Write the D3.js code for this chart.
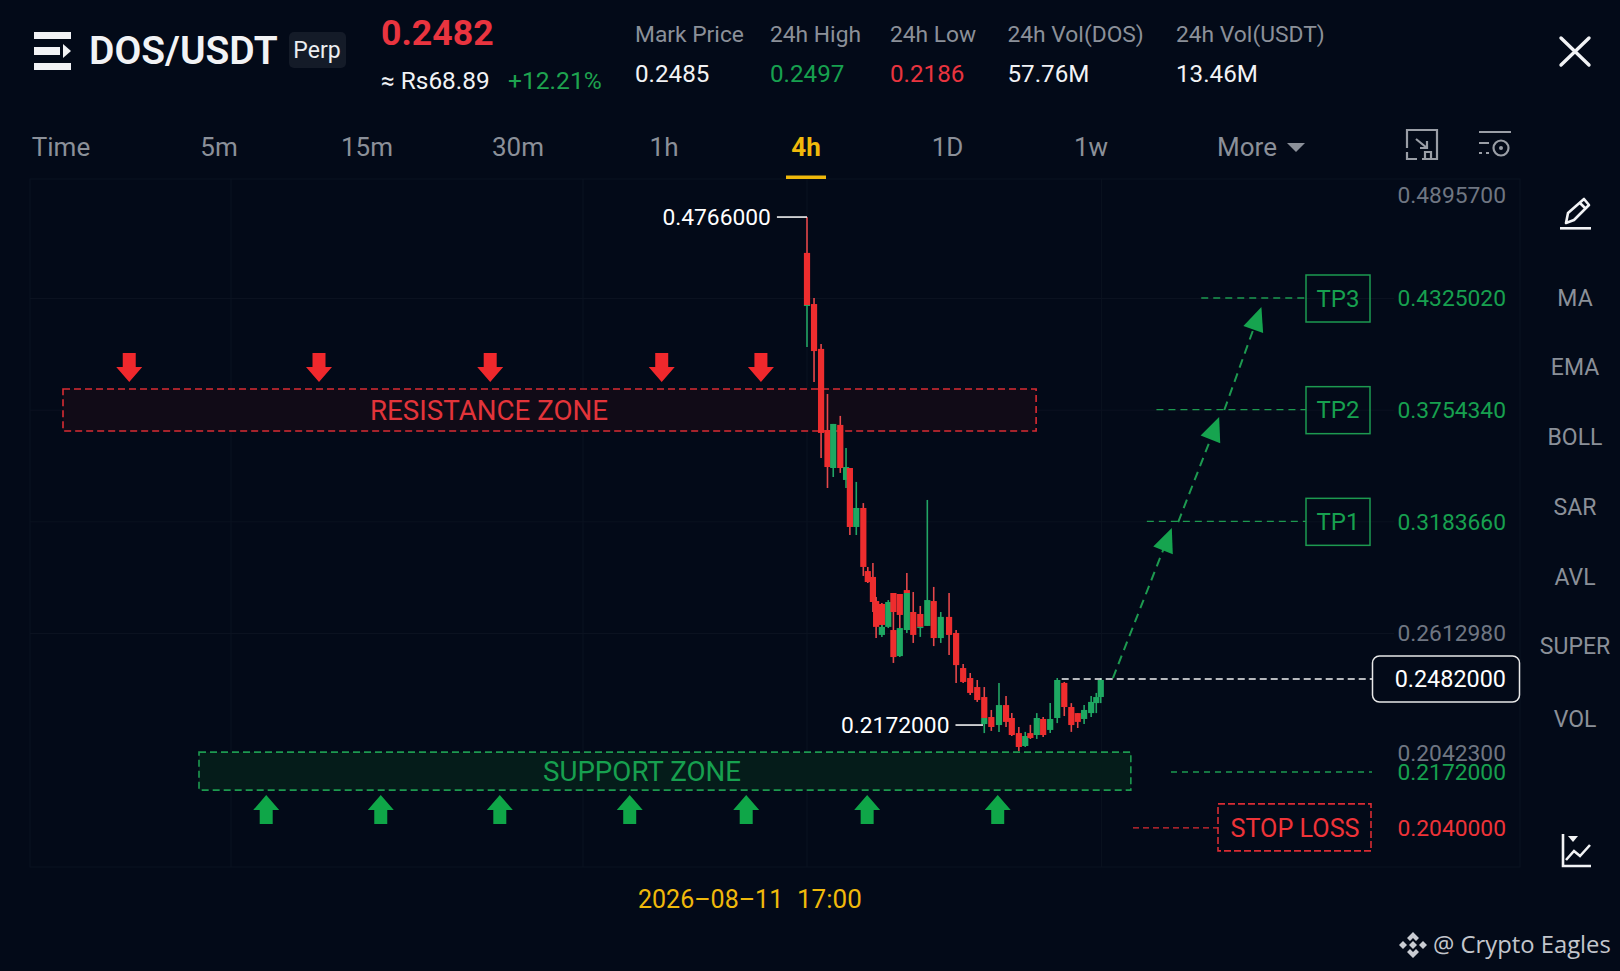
<!DOCTYPE html>
<html>
<head>
<meta charset="utf-8">
<title>DOS/USDT</title>
<script src="https://cdn.jsdelivr.net/npm/d3@7/dist/d3.min.js"></script>
<style>
  html, body { margin: 0; padding: 0; background: #030a18; overflow: hidden; }
  text { font-family: Roboto, sans-serif; }
</style>
</head>
<body>
<div id="chart"></div>
<script>
// candles
const slots  = [0,0,1.1,2.2,3.2,4.1,5.2,6.1,6.7,7.7,8.8,9.5,10.3,10.8,11.7,11.7,12.7,13.5,13.5,14.5,14.5,15.6,15.6,16.6,17.7,17.7,18.8,19.8,20.9,22.2,23.3,24.4,25.5,26.6,27.7,27.7,28.8,30,31.1,32,33.1,34.1,34.9,35.9,36.9,38,39.1,40.2,41.3,42.3,43.3,44.4,45.2,45.9];
const opens  = [.4595,.4325,.4334,.4105,.3691,.3497,.3717,.3436,.3497,.3196,.3293,.2971,.2941,.2818,.2803,.2645,.2686,.2859,.2670,.2854,.2537,.2874,.2670,.2762,.2752,.2680,.2691,.2818,.2629,.2737,.2655,.2476,.2425,.2379,.2328,.2190,.2226,.2185,.2287,.2221,.2144,.2078,.2144,.2134,.2216,.2160,.2221,.2400,.2277,.2246,.2216,.2246,.2297,.2328];
const highs  = [.4778,.4329,.4365,.4130,.3875,.3722,.3763,.3599,.3497,.3426,.3318,.2992,.3012,.2839,.2808,.2696,.2823,.2859,.2670,.2854,.2680,.2961,.2859,.2864,.2793,.2686,.3334,.2890,.2762,.2859,.2670,.2496,.2451,.2415,.2379,.2221,.2262,.2400,.2333,.2246,.2175,.2150,.2186,.2246,.2226,.2297,.2425,.2405,.2297,.2246,.2287,.2333,.2349,.2425];
const lows   = [.4329,.4115,.3936,.3548,.3395,.3451,.3472,.3395,.3155,.3155,.2946,.2910,.2762,.2629,.2686,.2635,.2680,.2670,.2502,.2680,.2532,.2859,.2655,.2604,.2680,.2635,.2691,.2588,.2604,.2542,.2400,.2400,.2338,.2303,.2221,.2144,.2155,.2150,.2175,.2129,.2053,.2073,.2114,.2114,.2124,.2144,.2195,.2231,.2150,.2170,.2190,.2226,.2246,.2297];
const closes = [.4329,.4329,.4094,.3676,.3502,.3722,.3497,.3502,.3196,.3293,.2992,.2915,.2813,.2686,.2696,.2686,.2813,.2762,.2532,.2747,.2680,.2859,.2859,.2645,.2686,.2686,.2823,.2629,.2737,.2645,.2491,.2405,.2349,.2313,.2221,.2221,.2175,.2287,.2201,.2134,.2073,.2129,.2119,.2221,.2134,.2216,.2415,.2277,.2185,.2201,.2262,.2303,.2328,.2415];

// price axis
const axisTicks = [0.48957, 0.432502, 0.375434, 0.318366, 0.261298, 0.20423];
const tpTicks = [0.432502, 0.375434, 0.318366];

// zones, arrows and trade path
const resistanceZone = { slotFrom: -116.25, slotTo: 35.8, top: .3900, bottom: .3686 };
const supportZone = { slotFrom: -95, slotTo: 50.6, top: .2047, bottom: .1853 };
const resistanceArrows = [-105.9, -76.25, -49.5, -22.7, -7.2];
const supportArrows = [-84.5, -66.6, -48, -27.7, -9.5, 9.4, 29.8];
const pathSlots  = [[47.8, 57], [58, 64.4], [65.2, 71]];
const pathPrices = [[.2425, .3191], [.3221, .3757], [.3793, .4319]];

const tpNames = ['TP3', 'TP2', 'TP1'];
const tpLineFrom = [61.6, 54.6, 53.1];

const highLabel = '0.4766000', lowLabel = '0.2172000', lastLabel = '0.2482000';
const supportLabel = '0.2172000', stopLabel = '0.2040000';
const highPrice = .4778, lowPrice = .2185, lastPrice = .2420, supportAt = .1945, stopAt = .1660;

// header
const statLabels = ['Mark Price', '24h High', '24h Low', '24h Vol(DOS)', '24h Vol(USDT)'];
const statValues = ['0.2485', '0.2497', '0.2186', '57.76M', '13.46M'];
const statX = [635, 770, 890, 1007.5, 1176];
const tabs = ['Time', '5m', '15m', '30m', '1h', '4h', '1D', '1w', 'More'];
const tabX = [61, 219, 367, 518, 664, 806, 947.5, 1091, 1247];
const sideLabels = ['MA', 'EMA', 'BOLL', 'SAR', 'AVL', 'SUPER', 'VOL'];
const sideY = [298, 367, 437, 507, 577, 646, 719];
const timeParts = ['2026–08–11', '17:00'];
const timePartX = [638, 797];
const timePartSize = ['25px', '26px'];

const RED = '#e9302f', GREEN = '#17a04f', GREY = '#8b9099', LINE_RED = '#d92c33', LINE_GREEN = '#1d9a50';
const AXIS_GREY = '#6f7682', YELLOW = '#f0b90b', GRID = '#0b1220', BG = '#030a18';

const svg = d3.select('#chart').append('svg')
  .attr('width', 1620)
  .attr('height', 971)
  .style('display', 'block');

const xScale = d3.scaleLinear().domain([0, 46]).range([807, 1101.4]);
// candles sit on the outer two axis labels, the inner labels sit 8px higher in the picture
const priceY = d3.scaleLinear().domain([0.48957, 0.20423]).range([194, 753]);
const axisY = d3.scaleLinear().domain([0.432502, 0.261298]).range([298, 633]);

// plot frame and grid
svg.append('rect')
  .attr('x', 30).attr('y', 179)
  .attr('width', 1490).attr('height', 688)
  .attr('fill', 'none').attr('stroke', GRID);

svg.append('g').selectAll('line')
  .data([-90, -35, 0, 46])
  .enter().append('line')
  .attr('x1', d => xScale(d)).attr('x2', d => xScale(d))
  .attr('y1', 179).attr('y2', 867)
  .attr('stroke', GRID);

const yAxis = d3.axisRight(axisY)
  .tickValues(axisTicks)
  .tickFormat(d3.format('.7f'))
  .tickSize(0)
  .tickPadding(0);

const axisG = svg.append('g')
  .attr('transform', 'translate(1506, 0)')
  .call(yAxis);
axisG.select('.domain').remove();
axisG.selectAll('text')
  .attr('text-anchor', 'end')
  .attr('x', 0)
  .attr('dy', d => (d === axisTicks[0] || d === axisTicks[5]) ? '16px' : '0.35em')
  .style('font-family', 'Roboto, sans-serif')
  .style('font-size', '22.8px')
  .attr('fill', d => tpTicks.includes(d) ? GREEN : AXIS_GREY);
axisG.selectAll('.tick').filter(d => d !== axisTicks[0] && d !== axisTicks[5])
  .append('line')
  .attr('x1', -1476).attr('x2', -112)
  .attr('stroke', GRID);

// zones
function drawZone(zone, fill, stroke, label, labelColor, labelX) {
  const y0 = priceY(zone.top), y1 = priceY(zone.bottom);
  svg.append('rect')
    .attr('x', xScale(zone.slotFrom)).attr('y', y0)
    .attr('width', xScale(zone.slotTo) - xScale(zone.slotFrom))
    .attr('height', y1 - y0)
    .attr('fill', fill)
    .attr('stroke', stroke)
    .attr('stroke-width', 1.6)
    .attr('stroke-dasharray', '7 4');
  svg.append('text')
    .attr('x', labelX).attr('y', (y0 + y1) / 2 + 9.5)
    .attr('text-anchor', 'middle')
    .attr('fill', labelColor)
    .style('font-size', '27.7px')
    .text(label);
}
drawZone(resistanceZone, '#110b17', LINE_RED, 'RESISTANCE ZONE', '#e3343a', 489);
drawZone(supportZone, '#051c1a', LINE_GREEN, 'SUPPORT ZONE', '#17a04f', 642);

// candles
const candles = svg.append('g').selectAll('g')
  .data(slots.map((s, i) => ({ slot: s, o: opens[i], h: highs[i], l: lows[i], c: closes[i] })))
  .enter().append('g');

candles.append('line')
  .attr('x1', d => xScale(d.slot)).attr('x2', d => xScale(d.slot))
  .attr('y1', d => priceY(d.h)).attr('y2', d => priceY(d.l))
  .attr('stroke', d => d.c >= d.o ? '#22a565' : '#e5474a')
  .attr('stroke-width', 1.6);

candles.append('rect')
  .attr('x', d => xScale(d.slot) - 3.1)
  .attr('width', 6.2)
  .attr('y', d => priceY(Math.max(d.o, d.c)))
  .attr('height', d => Math.max(1, Math.abs(priceY(d.o) - priceY(d.c))))
  .attr('fill', d => d.c >= d.o ? '#1ea862' : '#ee2d2e');

// block arrows
function blockArrow(cx, yTip, dir) {
  // dir -1 points up, 1 points down; tip sits on yTip
  const s = yTip - dir * 15, e = yTip - dir * 29;
  return `M${cx},${yTip}L${cx - 13},${s}L${cx - 6.5},${s}L${cx - 6.5},${e}L${cx + 6.5},${e}L${cx + 6.5},${s}L${cx + 13},${s}Z`;
}
svg.append('g').selectAll('path')
  .data(resistanceArrows).enter().append('path')
  .attr('d', d => blockArrow(xScale(d), priceY(resistanceZone.top) - 7, 1))
  .attr('fill', '#f0282c');
svg.append('g').selectAll('path')
  .data(supportArrows).enter().append('path')
  .attr('d', d => blockArrow(xScale(d), priceY(supportZone.bottom) + 5, -1))
  .attr('fill', '#0fa648');

// trade path
pathSlots.forEach((seg, i) => {
  const x0 = xScale(seg[0]), x1 = xScale(seg[1]);
  const y0 = priceY(pathPrices[i][0]), y1 = priceY(pathPrices[i][1]);
  const len = Math.hypot(x1 - x0, y1 - y0);
  const ux = (x1 - x0) / len, uy = (y1 - y0) / len;
  svg.append('line')
    .attr('x1', x0).attr('y1', y0)
    .attr('x2', x1 - ux * 22).attr('y2', y1 - uy * 22)
    .attr('stroke', LINE_GREEN)
    .attr('stroke-width', 2)
    .attr('stroke-dasharray', '9 6');
  const bx = x1 - ux * 24, by = y1 - uy * 24;
  svg.append('path')
    .attr('d', `M${x1},${y1}L${bx - uy * 10.5},${by + ux * 10.5}L${bx + uy * 10.5},${by - ux * 10.5}Z`)
    .attr('fill', '#16a44f');
});

// take profit levels
const tpY = tpTicks.map(d => axisY(d));
tpNames.forEach((name, i) => {
  svg.append('line')
    .attr('x1', xScale(tpLineFrom[i])).attr('x2', 1306)
    .attr('y1', tpY[i]).attr('y2', tpY[i])
    .attr('stroke', LINE_GREEN).attr('stroke-width', 1.4)
    .attr('stroke-dasharray', '7 5');
  svg.append('rect')
    .attr('x', 1306).attr('y', tpY[i] - 23)
    .attr('width', 64).attr('height', 47)
    .attr('fill', 'none')
    .attr('stroke', LINE_GREEN).attr('stroke-width', 1.5);
  svg.append('text')
    .attr('x', 1338).attr('y', tpY[i] + 8.5)
    .attr('text-anchor', 'middle')
    .attr('fill', GREEN)
    .style('font-size', '24px')
    .text(name);
});

// support level
svg.append('line')
  .attr('x1', 1171).attr('x2', 1372)
  .attr('y1', priceY(supportAt)).attr('y2', priceY(supportAt))
  .attr('stroke', LINE_GREEN).attr('stroke-width', 1.4)
  .attr('stroke-dasharray', '6 5');
svg.append('text')
  .attr('x', 1506).attr('y', priceY(supportAt))
  .attr('dy', '0.35em')
  .attr('text-anchor', 'end')
  .attr('fill', GREEN)
  .style('font-size', '22.8px')
  .text(supportLabel);

// stop loss
const stopY = priceY(stopAt);
svg.append('line')
  .attr('x1', 1133).attr('x2', 1218)
  .attr('y1', stopY).attr('y2', stopY)
  .attr('stroke', LINE_RED).attr('stroke-width', 1.4)
  .attr('stroke-dasharray', '6 4');
svg.append('rect')
  .attr('x', 1218).attr('y', stopY - 24)
  .attr('width', 153).attr('height', 47)
  .attr('fill', BG)
  .attr('stroke', LINE_RED).attr('stroke-width', 1.6)
  .attr('stroke-dasharray', '7 3');
svg.append('text')
  .attr('x', 1295).attr('y', stopY + 9)
  .attr('text-anchor', 'middle')
  .attr('fill', '#ee3338')
  .style('font-size', '25.2px')
  .text('STOP LOSS');
svg.append('text')
  .attr('x', 1506).attr('y', stopY)
  .attr('dy', '0.35em')
  .attr('text-anchor', 'end')
  .attr('fill', '#ee3338')
  .style('font-size', '22.8px')
  .text(stopLabel);

// last price
const lastY = priceY(lastPrice);
svg.append('line')
  .attr('x1', xScale(39.8)).attr('x2', 1372)
  .attr('y1', lastY).attr('y2', lastY)
  .attr('stroke', '#f2f2f2').attr('stroke-width', 1.6)
  .attr('stroke-dasharray', '7 4');
svg.append('rect')
  .attr('x', 1372.5).attr('y', lastY - 23)
  .attr('width', 147).attr('height', 46)
  .attr('rx', 7)
  .attr('fill', BG)
  .attr('stroke', '#e8e8e8').attr('stroke-width', 1.5);
svg.append('text')
  .attr('x', 1506).attr('y', lastY)
  .attr('dy', '0.35em')
  .attr('text-anchor', 'end')
  .attr('fill', '#fff')
  .style('font-size', '23.4px')
  .text(lastLabel);

// high and low callouts
const callouts = [
  { label: highLabel, y: priceY(highPrice), x1: xScale(-4.7), x2: xScale(0) },
  { label: lowLabel, y: priceY(lowPrice), x1: xScale(23.2), x2: xScale(27.5) }
];
callouts.forEach(c => {
  svg.append('line')
    .attr('x1', c.x1).attr('x2', c.x2)
    .attr('y1', c.y).attr('y2', c.y)
    .attr('stroke', '#f2f2f2').attr('stroke-width', 1.6);
  svg.append('text')
    .attr('x', c.x1 - 6).attr('y', c.y)
    .attr('dy', '0.35em')
    .attr('text-anchor', 'end')
    .attr('fill', '#fff')
    .style('font-size', '22.8px')
    .text(c.label);
});

// header
svg.append('g').attr('fill', '#f2f3f5').selectAll('rect')
  .data([[34, 32, 37, 7], [34, 47, 26, 8], [34, 63, 37, 7]])
  .enter().append('rect')
  .attr('x', d => d[0]).attr('y', d => d[1])
  .attr('width', d => d[2]).attr('height', d => d[3]);
svg.append('path').attr('d', 'M63,44L71,51L63,58Z').attr('fill', '#f2f3f5');

svg.append('text')
  .attr('x', 89).attr('y', 64)
  .attr('fill', '#f2f3f5')
  .style('font-size', '39px').style('font-weight', 600)
  .text('DOS/USDT');

svg.append('rect')
  .attr('x', 289).attr('y', 32)
  .attr('width', 57).attr('height', 36).attr('rx', 5)
  .attr('fill', '#141b28');
svg.append('text')
  .attr('x', 317).attr('y', 58)
  .attr('text-anchor', 'middle')
  .attr('fill', '#eceef1')
  .style('font-size', '23px')
  .text('Perp');

svg.append('text')
  .attr('x', 381).attr('y', 45)
  .attr('fill', '#e9343f')
  .style('font-size', '35.7px').style('font-weight', 700)
  .text('0.2482');
svg.append('text')
  .attr('x', 381).attr('y', 89)
  .attr('fill', '#f2f3f5')
  .style('font-size', '24.4px')
  .text('≈ Rs68.89');
svg.append('text')
  .attr('x', 508).attr('y', 89)
  .attr('fill', '#1ea34f')
  .style('font-size', '24.6px')
  .text('+12.21%');

statLabels.forEach((label, i) => {
  svg.append('text')
    .attr('x', statX[i]).attr('y', 42)
    .attr('fill', GREY)
    .style('font-size', '22.8px')
    .text(label);
  svg.append('text')
    .attr('x', statX[i]).attr('y', 82)
    .attr('fill', i === 1 ? GREEN : i === 2 ? '#e9343f' : '#f2f3f5')
    .style('font-size', '24.2px')
    .text(statValues[i]);
});

// close icon
svg.append('path')
  .attr('d', 'M1561,38L1589,65M1589,38L1561,65')
  .attr('stroke', '#f2f3f5').attr('stroke-width', 3.4)
  .attr('stroke-linecap', 'round');

// timeframe tabs
svg.append('g').selectAll('text')
  .data(tabs).enter().append('text')
  .attr('x', (d, i) => tabX[i])
  .attr('y', 156)
  .attr('text-anchor', 'middle')
  .attr('fill', d => d === '4h' ? YELLOW : GREY)
  .style('font-size', '26px')
  .style('font-weight', d => d === '4h' ? 700 : 400)
  .text(d => d);
svg.append('rect')
  .attr('x', 786).attr('y', 175.5)
  .attr('width', 40).attr('height', 3.5)
  .attr('fill', YELLOW);
svg.append('path').attr('d', 'M1287,143L1305,143L1296,152Z').attr('fill', GREY);

// toolbar icons
svg.append('path')
  .attr('d', 'M1407,148L1407,130L1437,130L1437,159L1422,159M1407,152L1407,159L1417,159M1416,139L1427,148M1427,141L1427,148L1420,148M1425,152L1431,152L1431,159L1425,159Z')
  .attr('fill', 'none').attr('stroke', '#9a9ea6').attr('stroke-width', 2.2);
svg.append('path')
  .attr('d', 'M1479,132L1511,132M1479,143L1489,143M1479,153L1482,153M1486,153L1489,153')
  .attr('fill', 'none').attr('stroke', '#9a9ea6').attr('stroke-width', 2.2);
svg.append('circle').attr('cx', 1501).attr('cy', 148).attr('r', 7.5)
  .attr('fill', 'none').attr('stroke', '#9a9ea6').attr('stroke-width', 2.2);
svg.append('circle').attr('cx', 1501).attr('cy', 148).attr('r', 2)
  .attr('fill', '#9a9ea6');

// pencil
svg.append('path')
  .attr('d', 'M1566,223L1568,213L1584,199L1589,205L1574,220Z M1580,203L1585,208')
  .attr('fill', 'none').attr('stroke', '#f2f3f5').attr('stroke-width', 2.6)
  .attr('stroke-linejoin', 'round');
svg.append('rect').attr('x', 1560).attr('y', 227).attr('width', 31).attr('height', 2.6).attr('fill', '#f2f3f5');

// side indicators
svg.append('g').selectAll('text')
  .data(sideLabels).enter().append('text')
  .attr('x', 1575)
  .attr('y', (d, i) => sideY[i] + 8)
  .attr('text-anchor', 'middle')
  .attr('fill', GREY)
  .style('font-size', '23px')
  .text(d => d);

// chart type icon
svg.append('path')
  .attr('d', 'M1563,834L1563,866L1591,866M1566,860L1574,851L1580,856L1590,845')
  .attr('fill', 'none').attr('stroke', '#f2f3f5').attr('stroke-width', 2.6);
svg.append('path').attr('d', 'M1568,836L1578,836L1573,842Z').attr('fill', '#f2f3f5');

// time label
svg.append('g').selectAll('text')
  .data(timeParts).enter().append('text')
  .attr('x', (d, i) => timePartX[i])
  .attr('y', 908)
  .attr('fill', YELLOW)
  .style('font-size', (d, i) => timePartSize[i])
  .text(d => d);

// watermark
const diamonds = svg.append('g').attr('fill', '#c9ccd2');
diamonds.append('path').attr('d', 'M1413,932L1419,938L1416,941L1413,938L1410,941L1407,938Z');
diamonds.append('path').attr('d', 'M1413,958L1407,952L1410,949L1413,952L1416,949L1419,952Z');
diamonds.append('path').attr('d', 'M1403,941L1407,945L1403,949L1399,945Z');
diamonds.append('path').attr('d', 'M1423,941L1427,945L1423,949L1419,945Z');
diamonds.append('path').attr('d', 'M1413,941L1417,945L1413,949L1409,945Z');
svg.append('text')
  .attr('x', 1433).attr('y', 953)
  .attr('fill', '#c3c6cc')
  .style('font-family', '"Open Sans", sans-serif')
  .style('font-size', '23.8px')
  .text('@ Crypto Eagles');
</script>
</body>
</html>
